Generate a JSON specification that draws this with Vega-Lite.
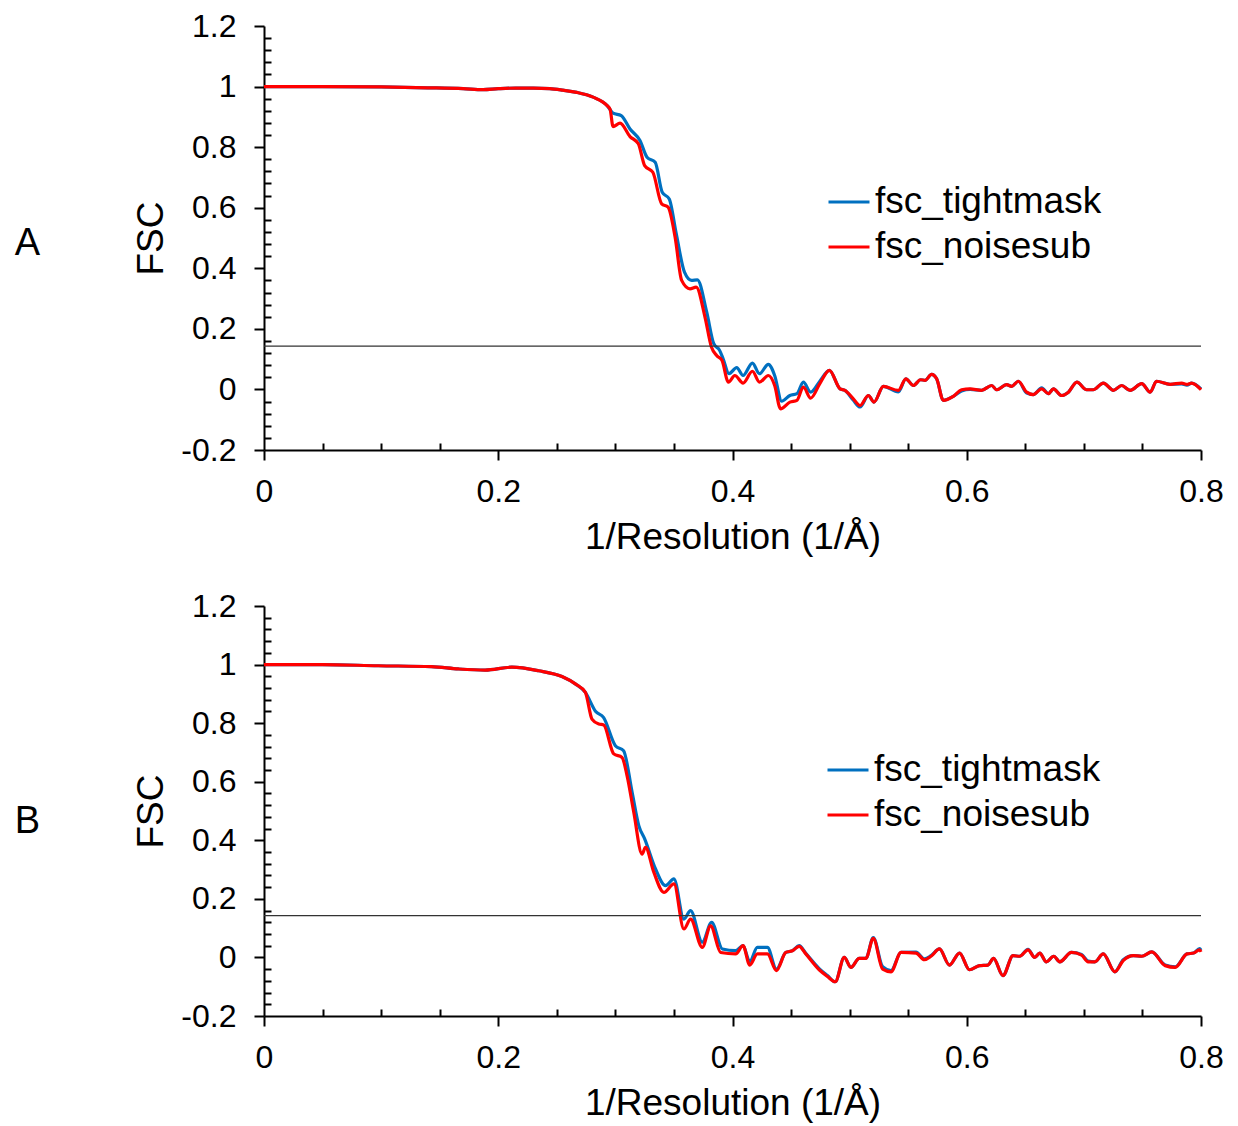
{
  "$schema": "https://vega.github.io/schema/vega-lite/v6.json",
  "background": "white",
  "padding": {"left": 14, "top": 10, "right": 10, "bottom": 5},
  "spacing": 35,
  "config": {
    "font": "Liberation Sans",
    "view": {"stroke": null},
    "axis": {"labelFont": "Liberation Sans", "titleFont": "Liberation Sans", "labelFontSize": 32, "titleFontSize": 37, "titleFontWeight": "normal", "labelColor": "black", "titleColor": "black", "domainColor": "black", "tickColor": "black", "domainWidth": 2, "tickWidth": 2, "grid": false, "labelOverlap": false, "labelFlush": false}
  },
  "resolve": {"scale": {"color": "independent"}, "legend": {"color": "independent"}},
  "datasets": {
    "A": [
      {"res": 0, "fsc": 1.0, "curve": "fsc_tightmask"},
      {"res": 0.05, "fsc": 1.0, "curve": "fsc_tightmask"},
      {"res": 0.1, "fsc": 0.999, "curve": "fsc_tightmask"},
      {"res": 0.14, "fsc": 0.996, "curve": "fsc_tightmask"},
      {"res": 0.17, "fsc": 0.993, "curve": "fsc_tightmask"},
      {"res": 0.187, "fsc": 0.99, "curve": "fsc_tightmask"},
      {"res": 0.2, "fsc": 0.993, "curve": "fsc_tightmask"},
      {"res": 0.215, "fsc": 0.995, "curve": "fsc_tightmask"},
      {"res": 0.23, "fsc": 0.995, "curve": "fsc_tightmask"},
      {"res": 0.244, "fsc": 0.993, "curve": "fsc_tightmask"},
      {"res": 0.255, "fsc": 0.988, "curve": "fsc_tightmask"},
      {"res": 0.267, "fsc": 0.981, "curve": "fsc_tightmask"},
      {"res": 0.281, "fsc": 0.965, "curve": "fsc_tightmask"},
      {"res": 0.293, "fsc": 0.937, "curve": "fsc_tightmask"},
      {"res": 0.298, "fsc": 0.912, "curve": "fsc_tightmask"},
      {"res": 0.305, "fsc": 0.904, "curve": "fsc_tightmask"},
      {"res": 0.3125, "fsc": 0.86, "curve": "fsc_tightmask"},
      {"res": 0.321, "fsc": 0.822, "curve": "fsc_tightmask"},
      {"res": 0.327, "fsc": 0.767, "curve": "fsc_tightmask"},
      {"res": 0.334, "fsc": 0.75, "curve": "fsc_tightmask"},
      {"res": 0.34, "fsc": 0.651, "curve": "fsc_tightmask"},
      {"res": 0.346, "fsc": 0.629, "curve": "fsc_tightmask"},
      {"res": 0.352, "fsc": 0.514, "curve": "fsc_tightmask"},
      {"res": 0.359, "fsc": 0.387, "curve": "fsc_tightmask"},
      {"res": 0.365, "fsc": 0.36, "curve": "fsc_tightmask"},
      {"res": 0.37, "fsc": 0.362, "curve": "fsc_tightmask"},
      {"res": 0.378, "fsc": 0.255, "curve": "fsc_tightmask"},
      {"res": 0.384, "fsc": 0.151, "curve": "fsc_tightmask"},
      {"res": 0.389, "fsc": 0.129, "curve": "fsc_tightmask"},
      {"res": 0.392, "fsc": 0.101, "curve": "fsc_tightmask"},
      {"res": 0.397, "fsc": 0.052, "curve": "fsc_tightmask"},
      {"res": 0.4036, "fsc": 0.072, "curve": "fsc_tightmask"},
      {"res": 0.409, "fsc": 0.046, "curve": "fsc_tightmask"},
      {"res": 0.417, "fsc": 0.087, "curve": "fsc_tightmask"},
      {"res": 0.423, "fsc": 0.052, "curve": "fsc_tightmask"},
      {"res": 0.4306, "fsc": 0.083, "curve": "fsc_tightmask"},
      {"res": 0.436, "fsc": 0.046, "curve": "fsc_tightmask"},
      {"res": 0.442, "fsc": -0.039, "curve": "fsc_tightmask"},
      {"res": 0.449, "fsc": -0.02, "curve": "fsc_tightmask"},
      {"res": 0.455, "fsc": -0.014, "curve": "fsc_tightmask"},
      {"res": 0.4605, "fsc": 0.024, "curve": "fsc_tightmask"},
      {"res": 0.4667, "fsc": -0.009, "curve": "fsc_tightmask"},
      {"res": 0.4747, "fsc": 0.028, "curve": "fsc_tightmask"},
      {"res": 0.4827, "fsc": 0.063, "curve": "fsc_tightmask"},
      {"res": 0.4918, "fsc": 0.002, "curve": "fsc_tightmask"},
      {"res": 0.496, "fsc": -0.003, "curve": "fsc_tightmask"},
      {"res": 0.503, "fsc": -0.035, "curve": "fsc_tightmask"},
      {"res": 0.5089, "fsc": -0.058, "curve": "fsc_tightmask"},
      {"res": 0.516, "fsc": -0.02, "curve": "fsc_tightmask"},
      {"res": 0.5208, "fsc": -0.042, "curve": "fsc_tightmask"},
      {"res": 0.5288, "fsc": 0.01, "curve": "fsc_tightmask"},
      {"res": 0.5416, "fsc": -0.008, "curve": "fsc_tightmask"},
      {"res": 0.548, "fsc": 0.035, "curve": "fsc_tightmask"},
      {"res": 0.5544, "fsc": 0.013, "curve": "fsc_tightmask"},
      {"res": 0.5606, "fsc": 0.032, "curve": "fsc_tightmask"},
      {"res": 0.5644, "fsc": 0.03, "curve": "fsc_tightmask"},
      {"res": 0.57, "fsc": 0.05, "curve": "fsc_tightmask"},
      {"res": 0.5743, "fsc": 0.035, "curve": "fsc_tightmask"},
      {"res": 0.58, "fsc": -0.036, "curve": "fsc_tightmask"},
      {"res": 0.5885, "fsc": -0.023, "curve": "fsc_tightmask"},
      {"res": 0.5956, "fsc": -0.005, "curve": "fsc_tightmask"},
      {"res": 0.6028, "fsc": 0.0, "curve": "fsc_tightmask"},
      {"res": 0.6127, "fsc": -0.003, "curve": "fsc_tightmask"},
      {"res": 0.6213, "fsc": 0.013, "curve": "fsc_tightmask"},
      {"res": 0.6255, "fsc": -0.001, "curve": "fsc_tightmask"},
      {"res": 0.634, "fsc": 0.016, "curve": "fsc_tightmask"},
      {"res": 0.6384, "fsc": 0.01, "curve": "fsc_tightmask"},
      {"res": 0.644, "fsc": 0.027, "curve": "fsc_tightmask"},
      {"res": 0.6512, "fsc": -0.012, "curve": "fsc_tightmask"},
      {"res": 0.6568, "fsc": -0.017, "curve": "fsc_tightmask"},
      {"res": 0.664, "fsc": 0.005, "curve": "fsc_tightmask"},
      {"res": 0.6697, "fsc": -0.014, "curve": "fsc_tightmask"},
      {"res": 0.674, "fsc": 0.002, "curve": "fsc_tightmask"},
      {"res": 0.681, "fsc": -0.02, "curve": "fsc_tightmask"},
      {"res": 0.6868, "fsc": -0.009, "curve": "fsc_tightmask"},
      {"res": 0.694, "fsc": 0.024, "curve": "fsc_tightmask"},
      {"res": 0.7024, "fsc": -0.001, "curve": "fsc_tightmask"},
      {"res": 0.708, "fsc": -0.001, "curve": "fsc_tightmask"},
      {"res": 0.7166, "fsc": 0.021, "curve": "fsc_tightmask"},
      {"res": 0.7252, "fsc": -0.003, "curve": "fsc_tightmask"},
      {"res": 0.7323, "fsc": 0.013, "curve": "fsc_tightmask"},
      {"res": 0.7395, "fsc": -0.003, "curve": "fsc_tightmask"},
      {"res": 0.7494, "fsc": 0.019, "curve": "fsc_tightmask"},
      {"res": 0.7566, "fsc": -0.009, "curve": "fsc_tightmask"},
      {"res": 0.762, "fsc": 0.027, "curve": "fsc_tightmask"},
      {"res": 0.7736, "fsc": 0.017, "curve": "fsc_tightmask"},
      {"res": 0.7835, "fsc": 0.018, "curve": "fsc_tightmask"},
      {"res": 0.788, "fsc": 0.014, "curve": "fsc_tightmask"},
      {"res": 0.792, "fsc": 0.021, "curve": "fsc_tightmask"},
      {"res": 0.8, "fsc": 0.002, "curve": "fsc_tightmask"},
      {"res": 0, "fsc": 1.0, "curve": "fsc_noisesub"},
      {"res": 0.05, "fsc": 1.0, "curve": "fsc_noisesub"},
      {"res": 0.1, "fsc": 0.999, "curve": "fsc_noisesub"},
      {"res": 0.14, "fsc": 0.996, "curve": "fsc_noisesub"},
      {"res": 0.17, "fsc": 0.993, "curve": "fsc_noisesub"},
      {"res": 0.187, "fsc": 0.99, "curve": "fsc_noisesub"},
      {"res": 0.2, "fsc": 0.993, "curve": "fsc_noisesub"},
      {"res": 0.215, "fsc": 0.995, "curve": "fsc_noisesub"},
      {"res": 0.23, "fsc": 0.995, "curve": "fsc_noisesub"},
      {"res": 0.244, "fsc": 0.993, "curve": "fsc_noisesub"},
      {"res": 0.255, "fsc": 0.988, "curve": "fsc_noisesub"},
      {"res": 0.267, "fsc": 0.981, "curve": "fsc_noisesub"},
      {"res": 0.281, "fsc": 0.965, "curve": "fsc_noisesub"},
      {"res": 0.293, "fsc": 0.937, "curve": "fsc_noisesub"},
      {"res": 0.2955, "fsc": 0.925, "curve": "fsc_noisesub"},
      {"res": 0.298, "fsc": 0.868, "curve": "fsc_noisesub"},
      {"res": 0.304, "fsc": 0.879, "curve": "fsc_noisesub"},
      {"res": 0.3125, "fsc": 0.835, "curve": "fsc_noisesub"},
      {"res": 0.3196, "fsc": 0.811, "curve": "fsc_noisesub"},
      {"res": 0.325, "fsc": 0.739, "curve": "fsc_noisesub"},
      {"res": 0.332, "fsc": 0.717, "curve": "fsc_noisesub"},
      {"res": 0.3395, "fsc": 0.613, "curve": "fsc_noisesub"},
      {"res": 0.345, "fsc": 0.602, "curve": "fsc_noisesub"},
      {"res": 0.351, "fsc": 0.503, "curve": "fsc_noisesub"},
      {"res": 0.3566, "fsc": 0.36, "curve": "fsc_noisesub"},
      {"res": 0.3637, "fsc": 0.332, "curve": "fsc_noisesub"},
      {"res": 0.369, "fsc": 0.338, "curve": "fsc_noisesub"},
      {"res": 0.3765, "fsc": 0.239, "curve": "fsc_noisesub"},
      {"res": 0.382, "fsc": 0.14, "curve": "fsc_noisesub"},
      {"res": 0.3865, "fsc": 0.112, "curve": "fsc_noisesub"},
      {"res": 0.391, "fsc": 0.096, "curve": "fsc_noisesub"},
      {"res": 0.3965, "fsc": 0.024, "curve": "fsc_noisesub"},
      {"res": 0.402, "fsc": 0.046, "curve": "fsc_noisesub"},
      {"res": 0.409, "fsc": 0.021, "curve": "fsc_noisesub"},
      {"res": 0.417, "fsc": 0.06, "curve": "fsc_noisesub"},
      {"res": 0.423, "fsc": 0.024, "curve": "fsc_noisesub"},
      {"res": 0.4306, "fsc": 0.046, "curve": "fsc_noisesub"},
      {"res": 0.436, "fsc": 0.013, "curve": "fsc_noisesub"},
      {"res": 0.441, "fsc": -0.064, "curve": "fsc_noisesub"},
      {"res": 0.449, "fsc": -0.042, "curve": "fsc_noisesub"},
      {"res": 0.455, "fsc": -0.036, "curve": "fsc_noisesub"},
      {"res": 0.4605, "fsc": 0.008, "curve": "fsc_noisesub"},
      {"res": 0.4667, "fsc": -0.029, "curve": "fsc_noisesub"},
      {"res": 0.4747, "fsc": 0.02, "curve": "fsc_noisesub"},
      {"res": 0.4827, "fsc": 0.063, "curve": "fsc_noisesub"},
      {"res": 0.4918, "fsc": 0.002, "curve": "fsc_noisesub"},
      {"res": 0.496, "fsc": -0.003, "curve": "fsc_noisesub"},
      {"res": 0.503, "fsc": -0.03, "curve": "fsc_noisesub"},
      {"res": 0.5089, "fsc": -0.053, "curve": "fsc_noisesub"},
      {"res": 0.516, "fsc": -0.02, "curve": "fsc_noisesub"},
      {"res": 0.5208, "fsc": -0.042, "curve": "fsc_noisesub"},
      {"res": 0.5288, "fsc": 0.01, "curve": "fsc_noisesub"},
      {"res": 0.5416, "fsc": -0.003, "curve": "fsc_noisesub"},
      {"res": 0.548, "fsc": 0.035, "curve": "fsc_noisesub"},
      {"res": 0.5544, "fsc": 0.013, "curve": "fsc_noisesub"},
      {"res": 0.5606, "fsc": 0.032, "curve": "fsc_noisesub"},
      {"res": 0.5644, "fsc": 0.03, "curve": "fsc_noisesub"},
      {"res": 0.57, "fsc": 0.05, "curve": "fsc_noisesub"},
      {"res": 0.5743, "fsc": 0.035, "curve": "fsc_noisesub"},
      {"res": 0.58, "fsc": -0.036, "curve": "fsc_noisesub"},
      {"res": 0.5885, "fsc": -0.023, "curve": "fsc_noisesub"},
      {"res": 0.5956, "fsc": -0.001, "curve": "fsc_noisesub"},
      {"res": 0.6028, "fsc": 0.002, "curve": "fsc_noisesub"},
      {"res": 0.6127, "fsc": -0.003, "curve": "fsc_noisesub"},
      {"res": 0.6213, "fsc": 0.013, "curve": "fsc_noisesub"},
      {"res": 0.6255, "fsc": -0.001, "curve": "fsc_noisesub"},
      {"res": 0.634, "fsc": 0.016, "curve": "fsc_noisesub"},
      {"res": 0.6384, "fsc": 0.01, "curve": "fsc_noisesub"},
      {"res": 0.644, "fsc": 0.027, "curve": "fsc_noisesub"},
      {"res": 0.6512, "fsc": -0.009, "curve": "fsc_noisesub"},
      {"res": 0.6568, "fsc": -0.017, "curve": "fsc_noisesub"},
      {"res": 0.664, "fsc": 0.002, "curve": "fsc_noisesub"},
      {"res": 0.6697, "fsc": -0.014, "curve": "fsc_noisesub"},
      {"res": 0.674, "fsc": 0.002, "curve": "fsc_noisesub"},
      {"res": 0.681, "fsc": -0.02, "curve": "fsc_noisesub"},
      {"res": 0.6868, "fsc": -0.009, "curve": "fsc_noisesub"},
      {"res": 0.694, "fsc": 0.024, "curve": "fsc_noisesub"},
      {"res": 0.7024, "fsc": -0.001, "curve": "fsc_noisesub"},
      {"res": 0.708, "fsc": -0.001, "curve": "fsc_noisesub"},
      {"res": 0.7166, "fsc": 0.021, "curve": "fsc_noisesub"},
      {"res": 0.7252, "fsc": -0.003, "curve": "fsc_noisesub"},
      {"res": 0.7323, "fsc": 0.013, "curve": "fsc_noisesub"},
      {"res": 0.7395, "fsc": -0.003, "curve": "fsc_noisesub"},
      {"res": 0.7494, "fsc": 0.019, "curve": "fsc_noisesub"},
      {"res": 0.7566, "fsc": -0.009, "curve": "fsc_noisesub"},
      {"res": 0.762, "fsc": 0.027, "curve": "fsc_noisesub"},
      {"res": 0.7736, "fsc": 0.017, "curve": "fsc_noisesub"},
      {"res": 0.7835, "fsc": 0.021, "curve": "fsc_noisesub"},
      {"res": 0.788, "fsc": 0.017, "curve": "fsc_noisesub"},
      {"res": 0.792, "fsc": 0.021, "curve": "fsc_noisesub"},
      {"res": 0.8, "fsc": -0.001, "curve": "fsc_noisesub"}
    ],
    "B": [
      {"res": 0, "fsc": 1.0, "curve": "fsc_tightmask"},
      {"res": 0.05, "fsc": 1.0, "curve": "fsc_tightmask"},
      {"res": 0.0975, "fsc": 0.996, "curve": "fsc_tightmask"},
      {"res": 0.143, "fsc": 0.993, "curve": "fsc_tightmask"},
      {"res": 0.166, "fsc": 0.985, "curve": "fsc_tightmask"},
      {"res": 0.1888, "fsc": 0.981, "curve": "fsc_tightmask"},
      {"res": 0.2116, "fsc": 0.991, "curve": "fsc_tightmask"},
      {"res": 0.2344, "fsc": 0.979, "curve": "fsc_tightmask"},
      {"res": 0.2544, "fsc": 0.959, "curve": "fsc_tightmask"},
      {"res": 0.2658, "fsc": 0.934, "curve": "fsc_tightmask"},
      {"res": 0.2744, "fsc": 0.905, "curve": "fsc_tightmask"},
      {"res": 0.283, "fsc": 0.841, "curve": "fsc_tightmask"},
      {"res": 0.29, "fsc": 0.819, "curve": "fsc_tightmask"},
      {"res": 0.3, "fsc": 0.723, "curve": "fsc_tightmask"},
      {"res": 0.307, "fsc": 0.706, "curve": "fsc_tightmask"},
      {"res": 0.3143, "fsc": 0.564, "curve": "fsc_tightmask"},
      {"res": 0.32, "fsc": 0.45, "curve": "fsc_tightmask"},
      {"res": 0.3251, "fsc": 0.404, "curve": "fsc_tightmask"},
      {"res": 0.3343, "fsc": 0.302, "curve": "fsc_tightmask"},
      {"res": 0.3428, "fsc": 0.245, "curve": "fsc_tightmask"},
      {"res": 0.35, "fsc": 0.268, "curve": "fsc_tightmask"},
      {"res": 0.3585, "fsc": 0.131, "curve": "fsc_tightmask"},
      {"res": 0.3642, "fsc": 0.16, "curve": "fsc_tightmask"},
      {"res": 0.3742, "fsc": 0.052, "curve": "fsc_tightmask"},
      {"res": 0.3822, "fsc": 0.12, "curve": "fsc_tightmask"},
      {"res": 0.3913, "fsc": 0.029, "curve": "fsc_tightmask"},
      {"res": 0.4027, "fsc": 0.023, "curve": "fsc_tightmask"},
      {"res": 0.409, "fsc": 0.04, "curve": "fsc_tightmask"},
      {"res": 0.4147, "fsc": -0.014, "curve": "fsc_tightmask"},
      {"res": 0.4212, "fsc": 0.034, "curve": "fsc_tightmask"},
      {"res": 0.4298, "fsc": 0.034, "curve": "fsc_tightmask"},
      {"res": 0.4375, "fsc": -0.04, "curve": "fsc_tightmask"},
      {"res": 0.4455, "fsc": 0.017, "curve": "fsc_tightmask"},
      {"res": 0.4512, "fsc": 0.023, "curve": "fsc_tightmask"},
      {"res": 0.4569, "fsc": 0.04, "curve": "fsc_tightmask"},
      {"res": 0.4626, "fsc": 0.014, "curve": "fsc_tightmask"},
      {"res": 0.474, "fsc": -0.038, "curve": "fsc_tightmask"},
      {"res": 0.4811, "fsc": -0.062, "curve": "fsc_tightmask"},
      {"res": 0.4877, "fsc": -0.083, "curve": "fsc_tightmask"},
      {"res": 0.4954, "fsc": 0.0, "curve": "fsc_tightmask"},
      {"res": 0.5011, "fsc": -0.034, "curve": "fsc_tightmask"},
      {"res": 0.5082, "fsc": -0.003, "curve": "fsc_tightmask"},
      {"res": 0.5139, "fsc": -0.003, "curve": "fsc_tightmask"},
      {"res": 0.5202, "fsc": 0.068, "curve": "fsc_tightmask"},
      {"res": 0.5282, "fsc": -0.032, "curve": "fsc_tightmask"},
      {"res": 0.5353, "fsc": -0.045, "curve": "fsc_tightmask"},
      {"res": 0.5439, "fsc": 0.017, "curve": "fsc_tightmask"},
      {"res": 0.5567, "fsc": 0.018, "curve": "fsc_tightmask"},
      {"res": 0.5638, "fsc": -0.005, "curve": "fsc_tightmask"},
      {"res": 0.5695, "fsc": 0.006, "curve": "fsc_tightmask"},
      {"res": 0.5767, "fsc": 0.029, "curve": "fsc_tightmask"},
      {"res": 0.5852, "fsc": -0.026, "curve": "fsc_tightmask"},
      {"res": 0.5938, "fsc": 0.015, "curve": "fsc_tightmask"},
      {"res": 0.6023, "fsc": -0.042, "curve": "fsc_tightmask"},
      {"res": 0.6109, "fsc": -0.028, "curve": "fsc_tightmask"},
      {"res": 0.618, "fsc": -0.026, "curve": "fsc_tightmask"},
      {"res": 0.6229, "fsc": -0.003, "curve": "fsc_tightmask"},
      {"res": 0.6309, "fsc": -0.062, "curve": "fsc_tightmask"},
      {"res": 0.6395, "fsc": 0.006, "curve": "fsc_tightmask"},
      {"res": 0.6452, "fsc": 0.004, "curve": "fsc_tightmask"},
      {"res": 0.6523, "fsc": 0.028, "curve": "fsc_tightmask"},
      {"res": 0.658, "fsc": 0.0, "curve": "fsc_tightmask"},
      {"res": 0.6623, "fsc": 0.015, "curve": "fsc_tightmask"},
      {"res": 0.668, "fsc": -0.015, "curve": "fsc_tightmask"},
      {"res": 0.6743, "fsc": 0.004, "curve": "fsc_tightmask"},
      {"res": 0.6794, "fsc": -0.015, "curve": "fsc_tightmask"},
      {"res": 0.6894, "fsc": 0.017, "curve": "fsc_tightmask"},
      {"res": 0.698, "fsc": 0.01, "curve": "fsc_tightmask"},
      {"res": 0.7036, "fsc": -0.012, "curve": "fsc_tightmask"},
      {"res": 0.7094, "fsc": -0.015, "curve": "fsc_tightmask"},
      {"res": 0.7165, "fsc": 0.012, "curve": "fsc_tightmask"},
      {"res": 0.7265, "fsc": -0.049, "curve": "fsc_tightmask"},
      {"res": 0.7336, "fsc": -0.008, "curve": "fsc_tightmask"},
      {"res": 0.7422, "fsc": 0.006, "curve": "fsc_tightmask"},
      {"res": 0.7494, "fsc": 0.004, "curve": "fsc_tightmask"},
      {"res": 0.758, "fsc": 0.019, "curve": "fsc_tightmask"},
      {"res": 0.7694, "fsc": -0.026, "curve": "fsc_tightmask"},
      {"res": 0.778, "fsc": -0.032, "curve": "fsc_tightmask"},
      {"res": 0.788, "fsc": 0.012, "curve": "fsc_tightmask"},
      {"res": 0.7937, "fsc": 0.015, "curve": "fsc_tightmask"},
      {"res": 0.7988, "fsc": 0.03, "curve": "fsc_tightmask"},
      {"res": 0.8, "fsc": 0.025, "curve": "fsc_tightmask"},
      {"res": 0, "fsc": 1.0, "curve": "fsc_noisesub"},
      {"res": 0.05, "fsc": 1.0, "curve": "fsc_noisesub"},
      {"res": 0.0975, "fsc": 0.996, "curve": "fsc_noisesub"},
      {"res": 0.143, "fsc": 0.993, "curve": "fsc_noisesub"},
      {"res": 0.166, "fsc": 0.985, "curve": "fsc_noisesub"},
      {"res": 0.1888, "fsc": 0.981, "curve": "fsc_noisesub"},
      {"res": 0.2116, "fsc": 0.991, "curve": "fsc_noisesub"},
      {"res": 0.2344, "fsc": 0.979, "curve": "fsc_noisesub"},
      {"res": 0.2544, "fsc": 0.959, "curve": "fsc_noisesub"},
      {"res": 0.2658, "fsc": 0.934, "curve": "fsc_noisesub"},
      {"res": 0.2744, "fsc": 0.905, "curve": "fsc_noisesub"},
      {"res": 0.28, "fsc": 0.814, "curve": "fsc_noisesub"},
      {"res": 0.2858, "fsc": 0.797, "curve": "fsc_noisesub"},
      {"res": 0.29, "fsc": 0.794, "curve": "fsc_noisesub"},
      {"res": 0.2986, "fsc": 0.695, "curve": "fsc_noisesub"},
      {"res": 0.3057, "fsc": 0.683, "curve": "fsc_noisesub"},
      {"res": 0.31, "fsc": 0.62, "curve": "fsc_noisesub"},
      {"res": 0.3157, "fsc": 0.496, "curve": "fsc_noisesub"},
      {"res": 0.3228, "fsc": 0.353, "curve": "fsc_noisesub"},
      {"res": 0.3257, "fsc": 0.376, "curve": "fsc_noisesub"},
      {"res": 0.3328, "fsc": 0.291, "curve": "fsc_noisesub"},
      {"res": 0.3414, "fsc": 0.222, "curve": "fsc_noisesub"},
      {"res": 0.35, "fsc": 0.251, "curve": "fsc_noisesub"},
      {"res": 0.3585, "fsc": 0.097, "curve": "fsc_noisesub"},
      {"res": 0.3642, "fsc": 0.131, "curve": "fsc_noisesub"},
      {"res": 0.3742, "fsc": 0.034, "curve": "fsc_noisesub"},
      {"res": 0.3813, "fsc": 0.108, "curve": "fsc_noisesub"},
      {"res": 0.3899, "fsc": 0.017, "curve": "fsc_noisesub"},
      {"res": 0.4027, "fsc": 0.012, "curve": "fsc_noisesub"},
      {"res": 0.409, "fsc": 0.04, "curve": "fsc_noisesub"},
      {"res": 0.4147, "fsc": -0.026, "curve": "fsc_noisesub"},
      {"res": 0.4212, "fsc": 0.012, "curve": "fsc_noisesub"},
      {"res": 0.4298, "fsc": 0.012, "curve": "fsc_noisesub"},
      {"res": 0.4375, "fsc": -0.045, "curve": "fsc_noisesub"},
      {"res": 0.4455, "fsc": 0.017, "curve": "fsc_noisesub"},
      {"res": 0.4512, "fsc": 0.023, "curve": "fsc_noisesub"},
      {"res": 0.4569, "fsc": 0.038, "curve": "fsc_noisesub"},
      {"res": 0.4626, "fsc": 0.012, "curve": "fsc_noisesub"},
      {"res": 0.474, "fsc": -0.042, "curve": "fsc_noisesub"},
      {"res": 0.4811, "fsc": -0.065, "curve": "fsc_noisesub"},
      {"res": 0.4877, "fsc": -0.083, "curve": "fsc_noisesub"},
      {"res": 0.4954, "fsc": 0.0, "curve": "fsc_noisesub"},
      {"res": 0.5011, "fsc": -0.034, "curve": "fsc_noisesub"},
      {"res": 0.5082, "fsc": -0.003, "curve": "fsc_noisesub"},
      {"res": 0.5139, "fsc": -0.003, "curve": "fsc_noisesub"},
      {"res": 0.5202, "fsc": 0.065, "curve": "fsc_noisesub"},
      {"res": 0.5282, "fsc": -0.04, "curve": "fsc_noisesub"},
      {"res": 0.5353, "fsc": -0.049, "curve": "fsc_noisesub"},
      {"res": 0.5439, "fsc": 0.017, "curve": "fsc_noisesub"},
      {"res": 0.5567, "fsc": 0.015, "curve": "fsc_noisesub"},
      {"res": 0.5638, "fsc": -0.008, "curve": "fsc_noisesub"},
      {"res": 0.5695, "fsc": 0.004, "curve": "fsc_noisesub"},
      {"res": 0.5767, "fsc": 0.029, "curve": "fsc_noisesub"},
      {"res": 0.5852, "fsc": -0.026, "curve": "fsc_noisesub"},
      {"res": 0.5938, "fsc": 0.015, "curve": "fsc_noisesub"},
      {"res": 0.6023, "fsc": -0.042, "curve": "fsc_noisesub"},
      {"res": 0.6109, "fsc": -0.028, "curve": "fsc_noisesub"},
      {"res": 0.618, "fsc": -0.026, "curve": "fsc_noisesub"},
      {"res": 0.6229, "fsc": -0.003, "curve": "fsc_noisesub"},
      {"res": 0.6309, "fsc": -0.062, "curve": "fsc_noisesub"},
      {"res": 0.6395, "fsc": 0.006, "curve": "fsc_noisesub"},
      {"res": 0.6452, "fsc": 0.004, "curve": "fsc_noisesub"},
      {"res": 0.6523, "fsc": 0.026, "curve": "fsc_noisesub"},
      {"res": 0.658, "fsc": 0.0, "curve": "fsc_noisesub"},
      {"res": 0.6623, "fsc": 0.015, "curve": "fsc_noisesub"},
      {"res": 0.668, "fsc": -0.015, "curve": "fsc_noisesub"},
      {"res": 0.6743, "fsc": 0.004, "curve": "fsc_noisesub"},
      {"res": 0.6794, "fsc": -0.015, "curve": "fsc_noisesub"},
      {"res": 0.6894, "fsc": 0.017, "curve": "fsc_noisesub"},
      {"res": 0.698, "fsc": 0.008, "curve": "fsc_noisesub"},
      {"res": 0.7036, "fsc": -0.015, "curve": "fsc_noisesub"},
      {"res": 0.7094, "fsc": -0.015, "curve": "fsc_noisesub"},
      {"res": 0.7165, "fsc": 0.012, "curve": "fsc_noisesub"},
      {"res": 0.7265, "fsc": -0.049, "curve": "fsc_noisesub"},
      {"res": 0.7336, "fsc": -0.011, "curve": "fsc_noisesub"},
      {"res": 0.7422, "fsc": 0.006, "curve": "fsc_noisesub"},
      {"res": 0.7494, "fsc": 0.004, "curve": "fsc_noisesub"},
      {"res": 0.758, "fsc": 0.019, "curve": "fsc_noisesub"},
      {"res": 0.7694, "fsc": -0.028, "curve": "fsc_noisesub"},
      {"res": 0.778, "fsc": -0.034, "curve": "fsc_noisesub"},
      {"res": 0.788, "fsc": 0.012, "curve": "fsc_noisesub"},
      {"res": 0.7937, "fsc": 0.015, "curve": "fsc_noisesub"},
      {"res": 0.7988, "fsc": 0.026, "curve": "fsc_noisesub"},
      {"res": 0.8, "fsc": 0.019, "curve": "fsc_noisesub"}
    ],
    "thr": [{"t": 0.143}]
  },
  "vconcat": [
    {
      "title": {"text": "A", "orient": "left", "angle": 0, "align": "center", "baseline": "middle", "anchor": "middle", "offset": 80, "dy": 6, "fontSize": 38, "fontWeight": "normal", "font": "Liberation Sans", "color": "black"},
      "width": 937,
      "height": 424,
      "encoding": {
        "x": {"field": "res", "type": "quantitative", "scale": {"domain": [0, 0.8], "nice": false, "zero": false},
          "axis": {"title": "1/Resolution (1/Å)", "values": [0, 0.05, 0.1, 0.15, 0.2, 0.25, 0.3, 0.35, 0.4, 0.45, 0.5, 0.55, 0.6, 0.65, 0.7, 0.75, 0.8],
            "labelExpr": "abs(datum.value*5-round(datum.value*5))<0.001 ? replace(format(datum.value,'.1~f'),'−','-') : ''",
            "tickSize": {"condition": {"test": "abs(datum.value*5-round(datum.value*5))<0.001", "value": 10}, "value": -7},
            "labelPadding": 16, "titlePadding": 12}},
        "y": {"field": "fsc", "type": "quantitative", "scale": {"domain": [-0.2, 1.2], "nice": false, "zero": false},
          "axis": {"title": "FSC", "values": [-0.2, -0.16, -0.12, -0.08, -0.04, 0, 0.04, 0.08, 0.12, 0.16, 0.2, 0.24, 0.28, 0.32, 0.36, 0.4, 0.44, 0.48, 0.52, 0.56, 0.6, 0.64, 0.68, 0.72, 0.76, 0.8, 0.84, 0.88, 0.92, 0.96, 1, 1.04, 1.08, 1.12, 1.16, 1.2],
            "labelExpr": "abs(datum.value*5-round(datum.value*5))<0.001 ? replace(format(datum.value,'.1~f'),'−','-') : ''",
            "tickSize": {"condition": {"test": "abs(datum.value*5-round(datum.value*5))<0.001", "value": 10}, "value": -7},
            "labelPadding": 18, "titlePadding": 10}}
      },
      "layer": [
        {"data": {"name": "A"}, "transform": [{"filter": "datum.curve == 'fsc_tightmask'"}],
          "mark": {"type": "line", "strokeWidth": 3.2, "interpolate": "monotone"},
          "encoding": {"color": {"field": "curve", "type": "nominal", "scale": {"domain": ["fsc_tightmask", "fsc_noisesub"], "range": ["#0070C0", "#FF0000"]},
            "legend": {"orient": "none", "legendX": 563, "legendY": 154, "title": null, "symbolType": "stroke", "symbolSize": 1681, "symbolStrokeWidth": 3, "labelFontSize": 37, "labelFont": "Liberation Sans", "labelColor": "black", "labelOffset": 4, "labelLimit": 500, "rowPadding": 5, "padding": 0}}}},
        {"data": {"name": "A"}, "transform": [{"filter": "datum.curve == 'fsc_noisesub'"}],
          "mark": {"type": "line", "strokeWidth": 3.2, "interpolate": "monotone"},
          "encoding": {"color": {"field": "curve", "type": "nominal"}}},
        {"data": {"name": "thr"}, "mark": {"type": "rule", "color": "#333333", "strokeWidth": 1.2},
          "encoding": {"y": {"field": "t", "type": "quantitative"}, "x": null}}
      ]
    },
    {
      "title": {"text": "B", "orient": "left", "angle": 0, "align": "center", "baseline": "middle", "anchor": "middle", "offset": 80, "dy": 11, "fontSize": 38, "fontWeight": "normal", "font": "Liberation Sans", "color": "black"},
      "width": 937,
      "height": 410,
      "encoding": {
        "x": {"field": "res", "type": "quantitative", "scale": {"domain": [0, 0.8], "nice": false, "zero": false},
          "axis": {"title": "1/Resolution (1/Å)", "values": [0, 0.05, 0.1, 0.15, 0.2, 0.25, 0.3, 0.35, 0.4, 0.45, 0.5, 0.55, 0.6, 0.65, 0.7, 0.75, 0.8],
            "labelExpr": "abs(datum.value*5-round(datum.value*5))<0.001 ? replace(format(datum.value,'.1~f'),'−','-') : ''",
            "tickSize": {"condition": {"test": "abs(datum.value*5-round(datum.value*5))<0.001", "value": 10}, "value": -7},
            "labelPadding": 16, "titlePadding": 12}},
        "y": {"field": "fsc", "type": "quantitative", "scale": {"domain": [-0.2, 1.2], "nice": false, "zero": false},
          "axis": {"title": "FSC", "values": [-0.2, -0.16, -0.12, -0.08, -0.04, 0, 0.04, 0.08, 0.12, 0.16, 0.2, 0.24, 0.28, 0.32, 0.36, 0.4, 0.44, 0.48, 0.52, 0.56, 0.6, 0.64, 0.68, 0.72, 0.76, 0.8, 0.84, 0.88, 0.92, 0.96, 1, 1.04, 1.08, 1.12, 1.16, 1.2],
            "labelExpr": "abs(datum.value*5-round(datum.value*5))<0.001 ? replace(format(datum.value,'.1~f'),'−','-') : ''",
            "tickSize": {"condition": {"test": "abs(datum.value*5-round(datum.value*5))<0.001", "value": 10}, "value": -7},
            "labelPadding": 18, "titlePadding": 10}}
      },
      "layer": [
        {"data": {"name": "B"}, "transform": [{"filter": "datum.curve == 'fsc_tightmask'"}],
          "mark": {"type": "line", "strokeWidth": 3.2, "interpolate": "monotone"},
          "encoding": {"color": {"field": "curve", "type": "nominal", "scale": {"domain": ["fsc_tightmask", "fsc_noisesub"], "range": ["#0070C0", "#FF0000"]},
            "legend": {"orient": "none", "legendX": 562, "legendY": 142, "title": null, "symbolType": "stroke", "symbolSize": 1681, "symbolStrokeWidth": 3, "labelFontSize": 37, "labelFont": "Liberation Sans", "labelColor": "black", "labelOffset": 4, "labelLimit": 500, "rowPadding": 5, "padding": 0}}}},
        {"data": {"name": "B"}, "transform": [{"filter": "datum.curve == 'fsc_noisesub'"}],
          "mark": {"type": "line", "strokeWidth": 3.2, "interpolate": "monotone"},
          "encoding": {"color": {"field": "curve", "type": "nominal"}}},
        {"data": {"name": "thr"}, "mark": {"type": "rule", "color": "#333333", "strokeWidth": 1.2},
          "encoding": {"y": {"field": "t", "type": "quantitative"}, "x": null}}
      ]
    }
  ]
}
